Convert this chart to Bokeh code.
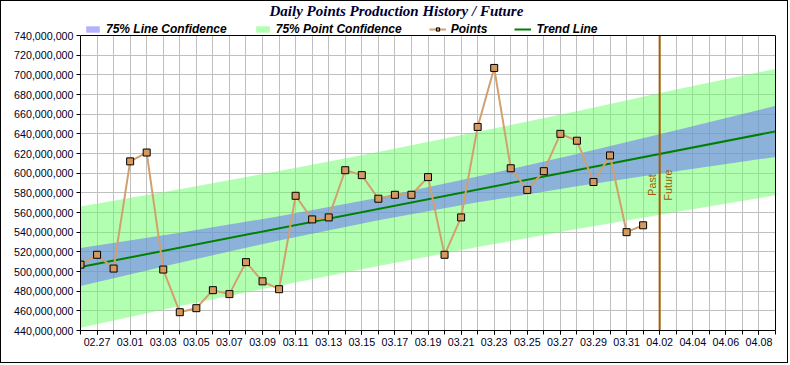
import math
from bokeh.plotting import figure
from bokeh.models import (ColumnDataSource, Legend, LegendItem, Span, Label,
                          FixedTicker, NumeralTickFormatter, Range1d, LinearAxis)
from bokeh.core.properties import value
from bokeh.embed import file_html
from bokeh.resources import INLINE

# ---------------- data ----------------
days = ["02.26", "02.27", "02.28", "03.01", "03.02", "03.03", "03.04", "03.05",
        "03.06", "03.07", "03.08", "03.09", "03.10", "03.11", "03.12", "03.13",
        "03.14", "03.15", "03.16", "03.17", "03.18", "03.19", "03.20", "03.21",
        "03.22", "03.23", "03.24", "03.25", "03.26", "03.27", "03.28", "03.29",
        "03.30", "03.31", "04.01", "04.02", "04.03", "04.04", "04.05", "04.06",
        "04.07", "04.08", "04.09"]
tick_labels = ["02.27", "03.01", "03.03", "03.05", "03.07", "03.09", "03.11",
               "03.13", "03.15", "03.17", "03.19", "03.21", "03.23", "03.25",
               "03.27", "03.29", "03.31", "04.02", "04.04", "04.06", "04.08"]

point_dates = days[:35]
point_values = [507e6, 517e6, 503e6, 612e6, 621e6, 502e6, 458.6e6, 462.7e6,
                481e6, 477e6, 509.5e6, 490e6, 482e6, 577e6, 553e6, 555e6,
                603e6, 598e6, 574e6, 578e6, 578e6, 596e6, 517e6, 555e6,
                647e6, 707e6, 605e6, 583e6, 602e6, 640e6, 633e6, 591e6,
                618e6, 540e6, 547e6]

trend_dates = ["02.26", "04.09"]
trend_values = [504.5e6, 642.5e6]

band_dates = ["02.26", "03.04", "03.10", "03.16", "03.22", "03.28", "04.03", "04.09"]
line_conf_low = [485.2e6, 509.0e6, 531.6e6, 552.2e6, 570.3e6, 586.6e6, 602.0e6, 616.5e6]
line_conf_high = [523.8e6, 539.4e6, 556.2e6, 575.0e6, 596.5e6, 619.6e6, 643.6e6, 668.5e6]
point_conf_low = [442.8e6, 464.8e6, 485.6e6, 505.6e6, 524.8e6, 543.2e6, 560.6e6, 577.5e6]
point_conf_high = [566.2e6, 583.6e6, 602.2e6, 621.6e6, 642.0e6, 663.0e6, 685.0e6, 706.0e6]

mark_date = "04.02"
mark_label_value = 588e6
y_min, y_max = 440e6, 740e6
y_ticks = [440e6 + 20e6 * k for k in range(16)]
title_text = "Daily Points Production History / Future"

# ---------------- layout (pixels) ----------------
W, H = 788, 363
LEFT, RIGHT, BOTTOM = 79, 14, 34
PLOT_H = 295          # pixel height of the 440M..740M data area
HEADER = 34           # space above the data area for title + legend
frame_h = H - BOTTOM
y_top = y_max + (y_max - y_min) * HEADER / PLOT_H

idx = {d: i for i, d in enumerate(days)}
FONT = "Liberation Sans"

p = figure(width=W, height=H, output_backend="svg", toolbar_location=None,
           x_range=Range1d(0, len(days) - 1), y_range=Range1d(y_min, y_top),
           title=None)
p.styles = {"border": "1px solid black"}
p.min_border_left = LEFT
p.min_border_right = RIGHT
p.min_border_top = 0
p.min_border_bottom = BOTTOM
p.background_fill_color = "white"
p.border_fill_color = "white"
p.outline_line_color = None

# grids (bounded to the data area)
p.xgrid.ticker = FixedTicker(ticks=list(range(len(days))))
p.ygrid.ticker = FixedTicker(ticks=y_ticks)
for g in (p.xgrid, p.ygrid):
    g.grid_line_color = "#c0c0c0"
    g.grid_line_width = 1
    g.grid_line_alpha = 1
p.xgrid.cross_bounds = (y_min, y_max)

# bands
band_x = [idx[d] for d in band_dates]
pc = p.varea(x=band_x, y1=point_conf_low, y2=point_conf_high,
             fill_color="#66ff66", fill_alpha=0.5)
lc = p.varea(x=band_x, y1=line_conf_low, y2=line_conf_high,
             fill_color="#6666ff", fill_alpha=0.5)

# trend
trend_r = p.line(x=[idx[d] for d in trend_dates], y=trend_values,
                 line_color="#008000", line_width=2)

# points
src = ColumnDataSource(dict(x=[idx[d] for d in point_dates], y=point_values))
pl = p.line("x", "y", source=src, line_color="#d2a06e", line_width=2)
ps = p.scatter("x", "y", source=src, marker="square", size=7,
               fill_color="#d4995f", line_color="black", line_width=1)

# mark line
p.segment(x0=[idx[mark_date]], y0=[y_min], x1=[idx[mark_date]], y1=[y_max],
          line_color="#a05c00", line_width=2)
p.text(x=[idx[mark_date]], y=[mark_label_value], text=["Past"], angle=math.pi / 2,
       text_align="center", text_baseline="bottom", x_offset=-2,
       text_font=value(FONT), text_font_size="10.7px", text_color="#a05c00")
p.text(x=[idx[mark_date]], y=[mark_label_value], text=["Future"], angle=math.pi / 2,
       text_align="center", text_baseline="top", x_offset=2,
       text_font=value(FONT), text_font_size="10.7px", text_color="#a05c00")

# top border of the data area
p.add_layout(Span(location=y_max, dimension="width", line_color="black", line_width=1))

# legend and title in the header strip
legend = Legend(items=[LegendItem(label="75% Line Confidence", renderers=[lc]),
                       LegendItem(label="75% Point Confidence", renderers=[pc]),
                       LegendItem(label="Points", renderers=[pl, ps]),
                       LegendItem(label="Trend Line", renderers=[trend_r])],
                orientation="horizontal", location=(4, PLOT_H - 1), margin=0,
                padding=0, spacing=27, glyph_width=17, glyph_height=8,
                label_height=12, label_standoff=5, label_text_font=FONT,
                label_text_font_style="bold italic", label_text_font_size="12px",
                label_text_color="black", border_line_color=None,
                background_fill_alpha=0)
p.add_layout(legend, "center")
p.add_layout(Label(x=189, y=frame_h - 1, x_units="screen", y_units="screen",
                   text=title_text, text_baseline="top", text_align="left",
                   text_font="Liberation Serif", text_font_style="bold italic",
                   text_font_size="15px", text_color="#000033"))

# axes
xa = p.xaxis[0]
xa.ticker = FixedTicker(ticks=[idx[t] for t in tick_labels],
                        minor_ticks=list(range(len(days))))
xa.major_label_overrides = {idx[t]: t for t in tick_labels}
ya = p.yaxis[0]
ya.ticker = FixedTicker(ticks=y_ticks)
ya.formatter = NumeralTickFormatter(format="0,0")
ya.bounds = (y_min, y_max)
for ax in (xa, ya):
    ax.axis_line_color = "black"
    ax.major_tick_line_color = "black"
    ax.minor_tick_line_color = "black"
    ax.major_tick_in = 0
    ax.major_tick_out = 4
    ax.minor_tick_in = 0
    ax.minor_tick_out = 4
    ax.major_label_standoff = 3
    ax.major_label_text_font = FONT
    ax.major_label_text_font_size = "10.7px"
    ax.major_label_text_color = "#000022"
ya.minor_tick_line_color = None

ra = LinearAxis(bounds=(y_min, y_max), ticker=FixedTicker(ticks=[]),
                axis_line_color="black", major_tick_line_color=None,
                minor_tick_line_color=None, major_label_text_font_size="0px")
p.add_layout(ra, "right")

open("out.html", "w").write(file_html(p, INLINE))
